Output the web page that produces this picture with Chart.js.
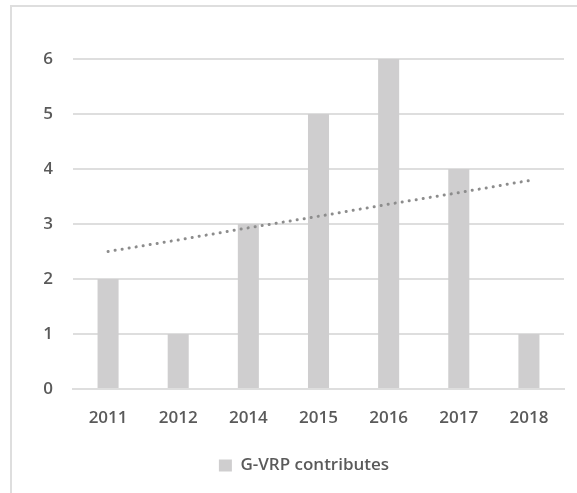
<!DOCTYPE html>
<html>
<head>
<meta charset="utf-8">
<script src="https://cdn.jsdelivr.net/npm/chart.js@4"></script>
<style>
  html, body { margin: 0; padding: 0; background: #ffffff; }
  #wrap { position: relative; width: 577px; height: 493px; }
  #frame { position: absolute; left: 10px; top: 5px; right: 0; bottom: 0;
           border-top: 2px solid #dedede; border-left: 2px solid #dedede; pointer-events: none; }
  canvas { position: absolute; left: 0; top: 0; }
</style>
</head>
<body>
<div id="wrap">
  <canvas id="c" width="577" height="493"></canvas>
  <div id="frame"></div>
</div>
<script>
const categories = ['2011', '2012', '2014', '2015', '2016', '2017', '2018'];
const contributes = [2, 1, 3, 5, 6, 4, 1];
const trend = [2.5, 2.71, 2.93, 3.14, 3.36, 3.57, 3.79];
const yTicks = [0, 1, 2, 3, 4, 5, 6];

const FONT = '"Open Sans", "DejaVu Sans", sans-serif';
const TXT = '#5a5a5a';

new Chart(document.getElementById('c'), {
  data: {
    labels: categories,
    datasets: [
      {
        type: 'line',
        label: 'Trend',
        data: trend,
        borderColor: '#8c8c8c',
        borderWidth: 3,
        borderDash: [0.1, 7],
        borderCapStyle: 'round',
        pointRadius: 0,
        fill: false,
        tension: 0,
        order: 0
      },
      {
        type: 'bar',
        label: 'G-VRP contributes',
        data: contributes,
        backgroundColor: '#cfcecf',
        borderWidth: 0,
        categoryPercentage: 1,
        barPercentage: 0.3,
        order: 1
      }
    ]
  },
  options: {
    responsive: false,
    animation: false,
    layout: { padding: { left: 44, right: 13, top: 59, bottom: 9 } },
    plugins: {
      tooltip: { enabled: false },
      legend: {
        position: 'bottom',
        labels: {
          filter: (item) => item.text !== 'Trend',
          boxWidth: 13,
          boxHeight: 12,
          padding: 10,
          color: TXT,
          font: { family: FONT, size: 17, weight: '600' }
        }
      }
    },
    scales: {
      x: {
        grid: { display: false, drawTicks: false },
        border: { display: true, color: '#dedede', width: 2 },
        ticks: { color: TXT, font: { family: FONT, size: 17, weight: '600' }, padding: 19, maxRotation: 0 },
        afterFit: (s) => { s.height = 58; }
      },
      y: {
        min: 0,
        max: 6,
        afterBuildTicks: (s) => { s.ticks = yTicks.map(v => ({ value: v })); },
        grid: { color: '#dedede', lineWidth: 2, drawTicks: false },
        border: { display: false },
        ticks: { color: TXT, font: { family: FONT, size: 17, weight: '600' }, padding: 20 },
        afterFit: (s) => { s.width = 29; }
      }
    }
  }
});
</script>
</body>
</html>
